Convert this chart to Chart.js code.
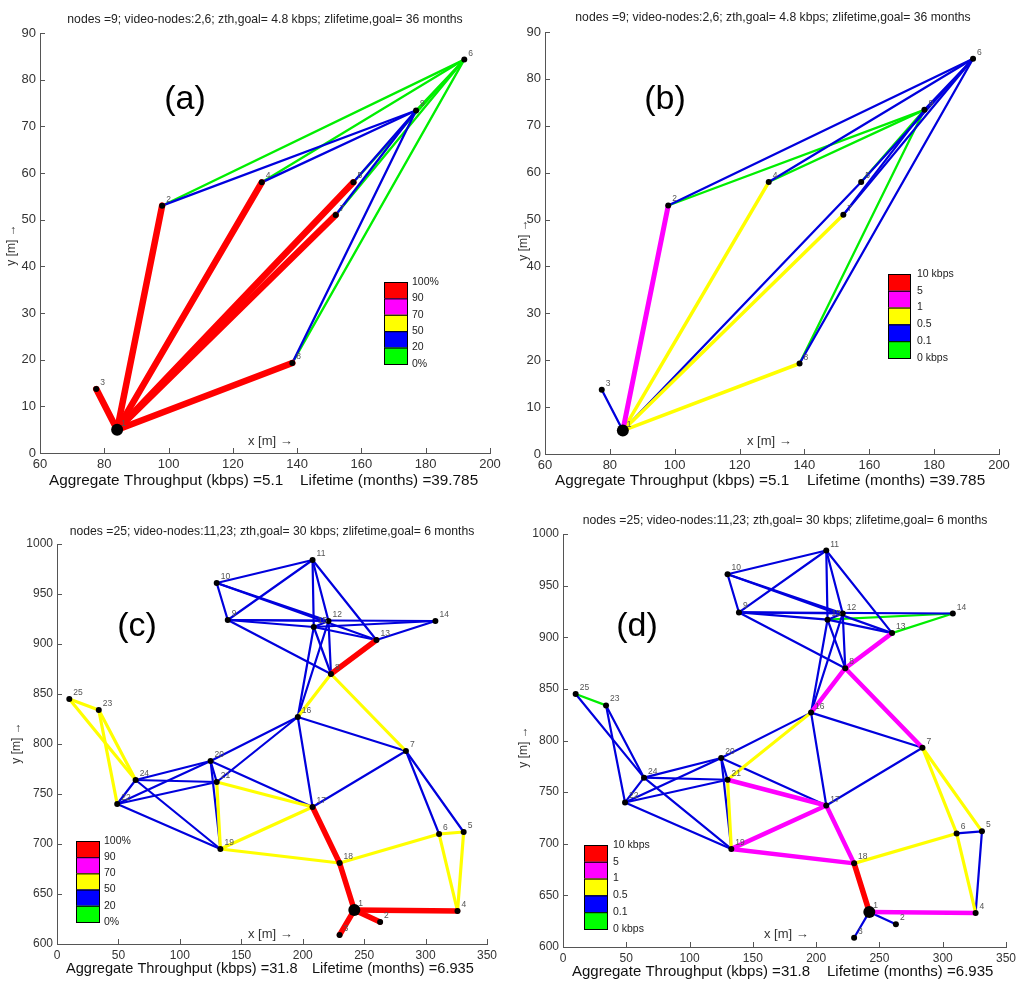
<!DOCTYPE html>
<html>
<head>
<meta charset="utf-8">
<script src="https://cdn.jsdelivr.net/npm/chart.js@4.4.1/dist/chart.umd.min.js"></script>
<style>
  body { margin: 0; background: #fff; width: 1024px; height: 990px; position: relative; overflow: hidden; }
  canvas { position: absolute; }
</style>
</head>
<body>
<canvas id="pa" width="512" height="495" style="left:0;top:0"></canvas>
<canvas id="pb" width="512" height="495" style="left:512px;top:0"></canvas>
<canvas id="pc" width="512" height="495" style="left:0;top:495px"></canvas>
<canvas id="pd" width="512" height="495" style="left:512px;top:495px"></canvas>
<script>
// ---- 9-node network (panels a, b) ----
const nodes9X = [84, 98, 77.5, 129, 157.5, 192, 152, 138.5, 177];
const nodes9Y = [5, 53, 13.7, 58, 58, 84.3, 51, 19.3, 73.4];
const links9 = [[1,2],[1,3],[1,4],[1,5],[1,7],[1,8],[2,6],[2,9],[4,6],[4,9],[5,6],[5,9],[7,6],[7,9],[8,6],[8,9],[9,6]];
// level: 0 = lowest bin (green) ... 4 = highest bin (red)
const levelA = [4,4,4,4,4,4,0,1,0,1,0,1,0,1,0,1,0];
const levelB = [3,1,2,1,2,2,1,0,1,0,1,0,1,1,1,0,1];

// ---- 25-node network (panels c, d) ----
const nodes25X = [242, 263, 230, 326, 331, 311, 284, 223, 139, 130, 208, 221, 260, 308, 209, 196, 208, 230, 133, 125, 130, 49, 34, 64, 10];
const nodes25Y = [634, 622, 609, 633, 712, 710, 793, 870, 924, 961, 984, 923, 904, 923, 917, 827, 737, 681, 695, 783, 762, 740, 834, 764, 845];
const links25 = [
  [1,2],[1,3],[1,4],[1,18],[18,17],[8,13],[18,19],[18,6],[6,4],[5,4],[6,5],[17,19],[17,21],[21,19],
  [16,8],[8,7],[25,23],[25,24],[23,24],[23,22],[7,17],[7,16],[7,6],[7,5],[16,17],[16,20],[16,21],
  [16,15],[16,12],[20,17],[20,24],[20,22],[20,21],[20,19],[21,24],[21,22],[24,22],[24,19],[22,19],
  [10,11],[10,9],[10,12],[10,13],[9,11],[9,14],[9,12],[9,15],[9,8],[11,15],[11,12],[11,13],
  [15,13],[15,14],[14,13],[15,8],[12,8],[12,15]
];
const levelC = [4,4,4,4,4,4,2,2,2,2,2,2,2,2,2,2,2,2,2,2,1,1,1,1,1,1,1,1,1,1,1,1,1,1,1,1,1,1,1,1,1,1,1,1,1,1,1,1,1,1,1,1,1,1,1,1,1];
const levelD = [1,1,3,4,3,3,3,2,2,1,1,3,3,2,3,3,0,1,1,1,1,1,2,2,1,1,2,1,1,1,1,1,1,1,1,1,1,1,1,1,1,1,1,1,1,1,1,1,1,1,1,1,0,0,1,1,1];

// legend bin labels, top to bottom
const pctBins = ['100%', '90', '70', '50', '20', '0%'];
const rateBins = ['10 kbps', '5', '1', '0.5', '0.1', '0 kbps'];

const title9 = 'nodes =9; video-nodes:2,6; zth,goal= 4.8 kbps; zlifetime,goal= 36 months';
const title25 = 'nodes =25; video-nodes:11,23; zth,goal= 30 kbps; zlifetime,goal= 6 months';
const footer9 = ['Aggregate Throughput (kbps) =5.1', 'Lifetime (months) =39.785'];
const footer25 = ['Aggregate Throughput (kbps) =31.8', 'Lifetime (months) =6.935'];

const LEVEL_COLORS = ['#00ee00', '#0000dd', '#ffff00', '#ff00ff', '#ff0000'];
const LEGEND_COLORS = ['#00ff00', '#0000ff', '#ffff00', '#ff00ff', '#ff0000'];
const FONT = '"Liberation Sans", Arial, sans-serif';

const panels = [
  { id: 'pa', letter: '(a)', nx: nodes9X, ny: nodes9Y, links: links9, levels: levelA, bins: pctBins,
    title: title9, footer: footer9, footSize: 15.3, x: [60, 200, 20], y: [0, 90, 10], widths: [2.3, 2.3, 3.5, 5, 6.5], tick: 13,
    box: { yW: 40, xH: 42, top: 33, right: 22 },
    pos: { title: [265, 20], letter: [185, 100], xlab: [248, 441], ylab: [12, 245], foot: [49, 300, 481], legend: [384, 282, 23, 82, 412] } },
  { id: 'pb', letter: '(b)', nx: nodes9X, ny: nodes9Y, links: links9, levels: levelB, bins: rateBins,
    title: title9, footer: footer9, footSize: 15.3, x: [60, 200, 20], y: [0, 90, 10], widths: [2.3, 2.3, 3.5, 5, 6.5], tick: 13,
    box: { yW: 33, xH: 41, top: 32, right: 25 },
    pos: { title: [261, 18], letter: [153, 100], xlab: [235, 441], ylab: [12, 240], foot: [43, 295, 481], legend: [376, 274, 22, 84, 405] } },
  { id: 'pc', letter: '(c)', nx: nodes25X, ny: nodes25Y, links: links25, levels: levelC, bins: pctBins,
    title: title25, footer: footer25, footSize: 14.6, x: [0, 350, 50], y: [600, 1000, 50], widths: [2.2, 2.2, 3.2, 4.5, 5.5], tick: 12,
    box: { yW: 57, xH: 46, top: 49, right: 25 },
    pos: { title: [272, 37], letter: [137, 132], xlab: [248, 439], ylab: [17, 248], foot: [66, 312, 474], legend: [76, 346, 23, 81, 104] } },
  { id: 'pd', letter: '(d)', nx: nodes25X, ny: nodes25Y, links: links25, levels: levelD, bins: rateBins,
    title: title25, footer: footer25, footSize: 15, x: [0, 350, 50], y: [600, 1000, 50], widths: [2.2, 2.2, 3.2, 4.5, 5.5], tick: 12,
    box: { yW: 51, xH: 43, top: 39, right: 18 },
    pos: { title: [273, 26], letter: [125, 132], xlab: [252, 439], ylab: [12, 252], foot: [60, 315, 477], legend: [72, 350, 23, 84, 101] } }
];

// draws texts, legend bar, inward ticks and node numbers
const decorPlugin = {
  id: 'decor',
  afterDraw(chart, args, opts) {
    const p = opts.panel;
    const ctx = chart.ctx;
    const area = chart.chartArea;
    const xs = chart.scales.x, ys = chart.scales.y;
    ctx.save();

    // inward tick marks
    ctx.strokeStyle = '#555';
    ctx.lineWidth = 1;
    xs.ticks.forEach(t => {
      const px = Math.round(xs.getPixelForValue(t.value)) + 0.5;
      ctx.beginPath(); ctx.moveTo(px, area.bottom); ctx.lineTo(px, area.bottom - 5); ctx.stroke();
    });
    ys.ticks.forEach(t => {
      const py = Math.round(ys.getPixelForValue(t.value)) + 0.5;
      ctx.beginPath(); ctx.moveTo(area.left, py); ctx.lineTo(area.left + 5, py); ctx.stroke();
    });

    // node numbers
    ctx.fillStyle = '#555';
    ctx.font = '8.5px ' + FONT;
    ctx.textAlign = 'left';
    ctx.textBaseline = 'alphabetic';
    p.nx.forEach((vx, i) => {
      ctx.fillText(String(i + 1), xs.getPixelForValue(vx) + 4, ys.getPixelForValue(p.ny[i]) - 4);
    });

    // title
    ctx.fillStyle = '#222';
    ctx.font = '12.2px ' + FONT;
    ctx.textAlign = 'center';
    ctx.textBaseline = 'middle';
    ctx.fillText(p.title, p.pos.title[0], p.pos.title[1]);

    // panel letter
    ctx.fillStyle = '#000';
    ctx.font = '34px ' + FONT;
    ctx.fillText(p.letter, p.pos.letter[0], p.pos.letter[1]);

    // axis labels
    ctx.fillStyle = '#333';
    ctx.font = '13px ' + FONT;
    ctx.textAlign = 'left';
    ctx.fillText('x [m] \u2192', p.pos.xlab[0], p.pos.xlab[1]);
    ctx.save();
    ctx.translate(p.pos.ylab[0], p.pos.ylab[1]);
    ctx.rotate(-Math.PI / 2);
    ctx.textAlign = 'center';
    ctx.font = '12px ' + FONT;
    ctx.fillText('y [m] \u2192', 0, 0);
    ctx.restore();

    // footer
    ctx.fillStyle = '#111';
    ctx.font = p.footSize + 'px ' + FONT;
    ctx.textAlign = 'left';
    ctx.fillText(p.footer[0], p.pos.foot[0], p.pos.foot[2]);
    ctx.fillText(p.footer[1], p.pos.foot[1], p.pos.foot[2]);

    // colour legend
    const [lx, ly, lw, lh, tx] = p.pos.legend;
    const n = LEGEND_COLORS.length;
    const bh = lh / n;
    for (let k = 0; k < n; k++) {
      ctx.fillStyle = LEGEND_COLORS[n - 1 - k];
      ctx.fillRect(lx, ly + k * bh, lw, bh);
      ctx.strokeStyle = '#000';
      ctx.lineWidth = 1;
      ctx.strokeRect(lx + 0.5, ly + k * bh + 0.5, lw, bh);
    }
    ctx.fillStyle = '#222';
    ctx.font = '10.5px ' + FONT;
    ctx.textBaseline = 'middle';
    p.bins.forEach((b, k) => ctx.fillText(b, tx, ly + k * bh));

    ctx.restore();
  }
};

panels.forEach(p => {
  const datasets = [];
  // nodes first so they sit on top
  datasets.push({
    data: p.nx.map((vx, i) => ({ x: vx, y: p.ny[i] })),
    pointRadius: p.nx.map((_, i) => i === 0 ? 6 : 3),
    pointBackgroundColor: '#000',
    pointBorderWidth: 0,
    showLine: false
  });
  // edges, highest level drawn on top
  const order = p.links.map((_, i) => i).sort((a, b) => p.levels[b] - p.levels[a]);
  order.forEach(i => {
    const [a, b] = p.links[i];
    const lv = p.levels[i];
    datasets.push({
      data: [{ x: p.nx[a - 1], y: p.ny[a - 1] }, { x: p.nx[b - 1], y: p.ny[b - 1] }],
      borderColor: LEVEL_COLORS[lv],
      borderWidth: p.widths[lv],
      pointRadius: 0,
      showLine: true,
      borderCapStyle: 'round'
    });
  });

  const tickStyle = { font: { family: FONT, size: p.tick }, color: '#333', callback: v => String(v) };
  new Chart(document.getElementById(p.id), {
    type: 'scatter',
    data: { datasets },
    plugins: [decorPlugin],
    options: {
      responsive: false,
      animation: false,
      devicePixelRatio: 1,
      layout: { padding: { left: 0, top: p.box.top, right: p.box.right, bottom: 0 } },
      plugins: { legend: { display: false }, tooltip: { enabled: false }, decor: { panel: p } },
      scales: {
        x: {
          type: 'linear', min: p.x[0], max: p.x[1],
          ticks: Object.assign({ stepSize: p.x[2], padding: 4, maxRotation: 0, autoSkip: false }, tickStyle),
          grid: { display: false, drawTicks: false },
          border: { display: true, color: '#555' },
          afterFit(s) { s.height = p.box.xH; }
        },
        y: {
          type: 'linear', min: p.y[0], max: p.y[1],
          ticks: Object.assign({ stepSize: p.y[2], padding: 4, autoSkip: false }, tickStyle),
          grid: { display: false, drawTicks: false },
          border: { display: true, color: '#555' },
          afterFit(s) { s.width = p.box.yW; }
        }
      }
    }
  });
});
</script>
</body>
</html>
